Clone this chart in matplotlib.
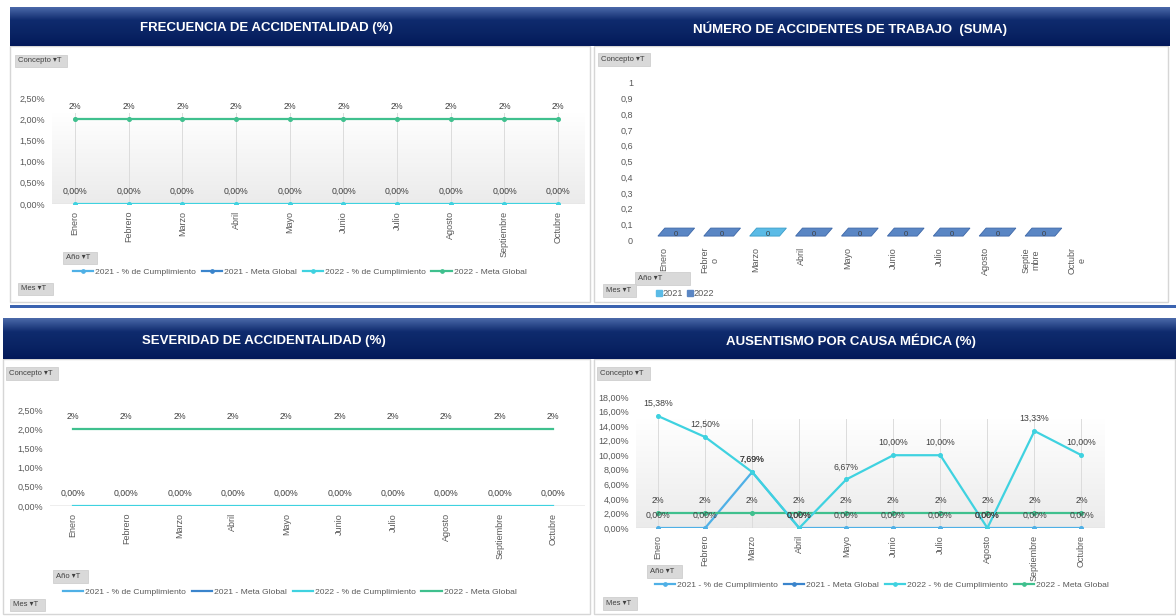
import numpy as np
import matplotlib.pyplot as plt
from matplotlib.colors import LinearSegmentedColormap
from matplotlib.lines import Line2D
from matplotlib.patches import Rectangle, Patch
from matplotlib.ticker import FuncFormatter, FixedLocator

plt.rcParams['font.family'] = ['Liberation Sans', 'DejaVu Sans']

# ---- data ----
meses = ["Enero", "Febrero", "Marzo", "Abril", "Mayo", "Junio", "Julio",
         "Agosto", "Septiembre", "Octubre"]
meses_cortos = ["Enero", "Febrer\no", "Marzo", "Abril", "Mayo", "Junio", "Julio",
                "Agosto", "Septie\nmbre", "Octubr\ne"]

frec_2022_cumpl = [0.0, 0.0, 0.0, 0.0, 0.0, 0.0, 0.0, 0.0, 0.0, 0.0]
frec_2022_meta = [2.0, 2.0, 2.0, 2.0, 2.0, 2.0, 2.0, 2.0, 2.0, 2.0]

acc_2021 = [np.nan, np.nan, 0, np.nan, np.nan, np.nan, np.nan, np.nan, np.nan, np.nan]
acc_2022 = [0, 0, np.nan, 0, 0, 0, 0, 0, 0, np.nan]

sev_2022_cumpl = [0.0, 0.0, 0.0, 0.0, 0.0, 0.0, 0.0, 0.0, 0.0, 0.0]
sev_2022_meta = [2.0, 2.0, 2.0, 2.0, 2.0, 2.0, 2.0, 2.0, 2.0, 2.0]

aus_2021_cumpl = [0.0, 0.0, 7.69, 0.0, 0.0, 0.0, 0.0, 0.0, 0.0, 0.0]
aus_2022_cumpl = [15.38, 12.50, 7.69, 0.0, 6.67, 10.00, 10.00, 0.0, 13.33, 10.00]
aus_2022_meta = [2.0, 2.0, 2.0, 2.0, 2.0, 2.0, 2.0, 2.0, 2.0, 2.0]

series_names = ["2021 - % de Cumplimiento", "2021 - Meta Global",
                "2022 - % de Cumplimiento", "2022 - Meta Global"]
series_colors = ["#4fb0e6", "#3a84cc", "#3fd2e0", "#3fc08e"]

W, H = 1176, 616
GRAY = "#595959"
fig = plt.figure(figsize=(W / 100, H / 100), dpi=100)


def box(x0, y0, x1, y1, **kw):
    return fig.add_axes([x0 / W, 1 - y1 / H, (x1 - x0) / W, (y1 - y0) / H], **kw)


def pct(v):
    return f"{v:.2f}".replace(".", ",") + "%"


def header(x0, y0, x1, y1, title, tx):
    ax = box(x0, y0, x1, y1)
    cmap = LinearSegmentedColormap.from_list(
        "hdr", ["#4a68a8", "#0f2b6e", "#0a2464", "#03195a"])
    ax.imshow(np.linspace(0, 1, 60).reshape(-1, 1), aspect="auto", cmap=cmap,
              extent=[0, 1, 0, 1])
    ax.text((tx - x0) / (x1 - x0), 0.45, title, color="white", fontsize=9.5,
            fontweight="bold", ha="center", va="center", transform=ax.transAxes)
    ax.axis("off")


def body(x0, y0, x1, y1):
    fig.patches.append(Rectangle((x0 / W, 1 - y1 / H), (x1 - x0) / W, (y1 - y0) / H,
                                 transform=fig.transFigure, facecolor="white",
                                 edgecolor="#d6d6d6", lw=1.0, zorder=-5))


def button(x0, y0, x1, y1, name):
    fig.patches.append(Rectangle((x0 / W, 1 - y1 / H), (x1 - x0) / W, (y1 - y0) / H,
                                 transform=fig.transFigure, facecolor="#d9d9d9",
                                 edgecolor="#cfcfcf", lw=0.6, zorder=2))
    fig.text((x0 + 3) / W, 1 - (y0 + y1) / 2 / H, name + " ▾T", fontsize=5.5,
             color="#404040", ha="left", va="center", zorder=3)


def line_panel(ax_box, xl, ymax, grad_top, series, markers, gridx, ystep):
    ax = box(*ax_box)
    ax.patch.set_alpha(0)
    x = np.arange(len(meses))
    ax.set_xlim(*xl)
    cmap = LinearSegmentedColormap.from_list("bg", ["#ffffff", "#ebebeb"])
    ax.imshow(np.linspace(0, 1, 60).reshape(-1, 1), aspect="auto", cmap=cmap,
              extent=[xl[0], xl[1], 0, grad_top], zorder=0)
    ax.set_ylim(0, ymax)
    if gridx:
        for xi in x:
            ax.plot([xi, xi], [0, grad_top], color="#dcdcdc", lw=0.7, zorder=1)
    ax.axhline(0, color="#d9d9d9", lw=1, zorder=1)
    for vals, color, fmt in series:
        ax.plot(x, vals, color=color, lw=1.6, marker="o" if markers else None,
                ms=2.6, zorder=3)
        for xi, v in zip(x, vals):
            ax.annotate(fmt(v), (xi, v), xytext=(0, 9), textcoords="offset points",
                        ha="center", va="center", fontsize=6.3, color="#404040", zorder=4)
    ax.yaxis.set_major_locator(FixedLocator(np.arange(0, ymax + 0.001, ystep)))
    ax.yaxis.set_major_formatter(FuncFormatter(lambda v, p: pct(v)))
    ax.set_xticks(x)
    ax.set_xticklabels(meses, rotation=90, va="top", ha="center")
    ax.tick_params(length=0, labelsize=6.5, labelcolor=GRAY, pad=5)
    for s in ax.spines.values():
        s.set_visible(False)
    return ax


def legend(x, y, with_markers):
    handles = [Line2D([], [], color=c, lw=1.6, marker="o" if with_markers else None,
                      ms=2.4) for c in series_colors]
    fig.legend(handles, series_names, loc="center left", bbox_to_anchor=(x / W, 1 - y / H),
               ncol=4, frameon=False, fontsize=6.1, labelcolor=GRAY, handlelength=2.4,
               handletextpad=0.2, columnspacing=0.7, borderpad=0, borderaxespad=0)


# ---- panel frames ----
body(10, 46, 590, 302)
body(594, 46, 1168, 302)
body(3, 359, 590, 614)
body(594, 359, 1175, 614)
fig.patches.append(Rectangle((10 / W, 1 - 308 / H), 1166 / W, 3 / H, transform=fig.transFigure,
                             facecolor="#3b63b0", edgecolor="none", zorder=1))

header(10, 7, 592, 46, "FRECUENCIA DE ACCIDENTALIDAD (%)", 266)
header(592, 7, 1170, 46, "NÚMERO DE ACCIDENTES DE TRABAJO  (SUMA)", 850)
header(3, 318, 592, 359, "SEVERIDAD DE ACCIDENTALIDAD (%)", 264)
header(592, 318, 1176, 359, "AUSENTISMO POR CAUSA MÉDICA (%)", 851)

# ---- Frecuencia ----
line_panel((52, 98, 585, 204), (-0.43, 9.5), 2.5, 2.15,
           [(frec_2022_cumpl, series_colors[2], pct),
            (frec_2022_meta, series_colors[3], lambda v: f"{v:.0f}%")],
           True, True, 0.5)
legend(73, 272, True)
button(15, 55, 67, 67, "Concepto")
button(63, 252, 97, 264, "Año")
button(18, 283, 53, 295, "Mes")

# ---- Severidad ----
line_panel((50, 410, 585, 506), (-0.43, 9.6), 2.5, 0.001,
           [(sev_2022_cumpl, series_colors[2], pct),
            (sev_2022_meta, series_colors[3], lambda v: f"{v:.0f}%")],
           False, False, 0.5)
legend(63, 592, False)
button(6, 367, 58, 380, "Concepto")
button(53, 570, 88, 583, "Año")
button(10, 599, 45, 611, "Mes")

# ---- Ausentismo ----
line_panel((636, 397, 1105, 528), (-0.47, 9.5), 18, 15.0,
           [(aus_2021_cumpl, series_colors[0], pct),
            (aus_2022_meta, series_colors[3], lambda v: f"{v:.0f}%"),
            (aus_2022_cumpl, series_colors[2], pct)],
           True, True, 2)
legend(655, 585, True)
button(597, 367, 650, 380, "Concepto")
button(647, 565, 682, 578, "Año")
button(603, 597, 637, 610, "Mes")

# ---- Numero de accidentes (flat 3D bars, all zero) ----
axb = box(640, 83, 1110, 240)
axb.patch.set_alpha(0)
xb = np.arange(len(meses))
axb.set_xlim(-0.52, 9.72)
axb.set_ylim(0, 1)
for vals, face, edge in [(acc_2021, "#5bbbe6", "#3a9cc8"), (acc_2022, "#5a86c4", "#3d67a8")]:
    for xi, v in zip(xb, vals):
        if np.isnan(v):
            continue
        axb.fill([xi - 0.13, xi + 0.52, xi + 0.67, xi + 0.02],
                 [v + 0.025, v + 0.025, v + 0.076, v + 0.076],
                 facecolor=face, edgecolor=edge, lw=0.6, zorder=2)
        axb.text(xi + 0.27, v + 0.035, f"{v:g}", fontsize=5.5, color="#404040",
                 ha="center", va="center", zorder=3)
axb.yaxis.set_major_locator(FixedLocator(np.round(np.arange(0, 1.01, 0.1), 1)))
axb.yaxis.set_major_formatter(FuncFormatter(lambda v, p: f"{v:g}".replace(".", ",")))
axb.set_xticks(xb)
axb.set_xticklabels(meses_cortos, rotation=90, va="top", ha="center", multialignment="center")
axb.tick_params(length=0, labelsize=6.5, labelcolor=GRAY, pad=5)
for s in axb.spines.values():
    s.set_visible(False)
fig.legend([Patch(color="#5bbbe6"), Patch(color="#5a86c4")], ["2021", "2022"],
           loc="center left", bbox_to_anchor=(656 / W, 1 - 294 / H), ncol=2, frameon=False,
           fontsize=6.6, labelcolor=GRAY, handlelength=0.6, handleheight=0.6,
           handletextpad=0.15, columnspacing=0.4, borderpad=0, borderaxespad=0)
button(598, 53, 650, 66, "Concepto")
button(635, 272, 690, 285, "Año")
button(603, 284, 636, 297, "Mes")

fig.savefig("out.png", dpi=100)
